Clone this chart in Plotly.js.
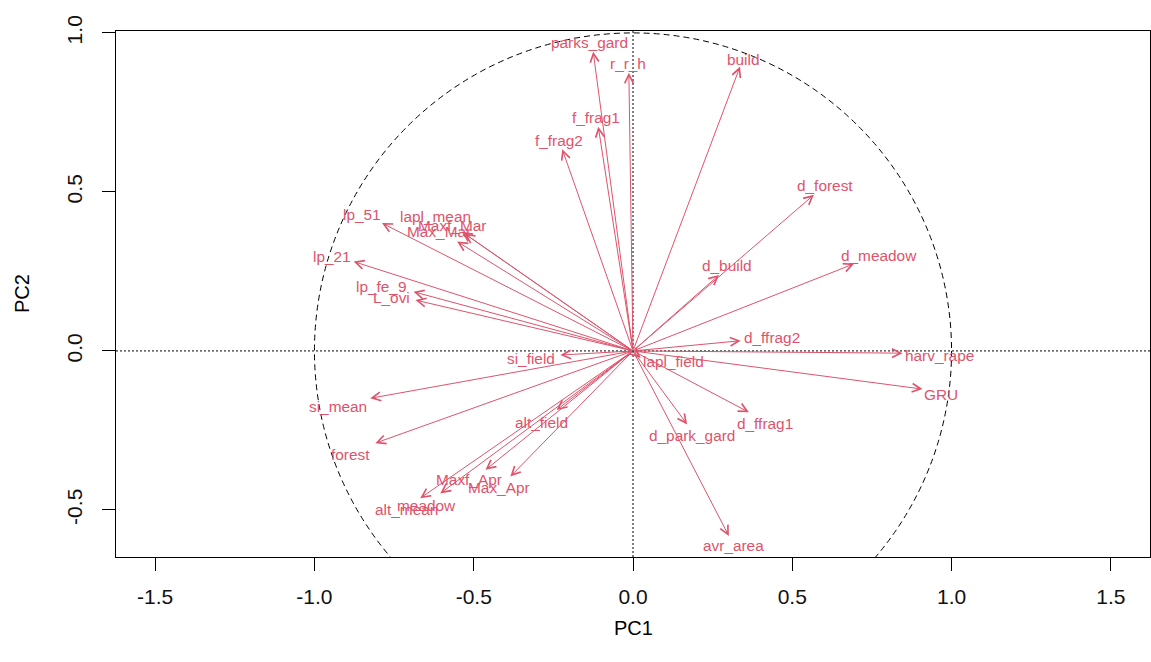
<!DOCTYPE html>
<html>
<head>
<meta charset="utf-8">
<script src="https://cdn.plot.ly/plotly-3.0.1.min.js"></script>
<style>html,body{margin:0;padding:0;background:#fff;}#chart{width:1151px;height:662px;}</style>
</head>
<body>
<div id="chart"></div>
<script>
// ---- data: variable loadings (PC1, PC2) ----
const varNames = ["parks_gard","r_r_h","build","f_frag1","f_frag2","d_forest","d_meadow","d_build",
  "d_ffrag2","harv_rape","GRU","lapl_field","d_ffrag1","d_park_gard","avr_area","lp_51","lapl_mean",
  "Maxf_Mar","Max_Mar","lp_21","lp_fe_9","L_ovi","si_field","si_mean","forest","alt_field",
  "Maxf_Apr","Max_Apr","meadow","alt_mean"];
const pc1 = [-0.125,-0.013,0.336,-0.109,-0.222,0.568,0.694,0.270,
  0.338,0.846,0.909,0.024,0.364,0.170,0.301,-0.788,-0.537,
  -0.529,-0.552,-0.877,-0.689,-0.683,-0.228,-0.825,-0.809,-0.240,
  -0.463,-0.385,-0.605,-0.668];
const pc2 = [0.941,0.875,0.894,0.705,0.634,0.491,0.274,0.239,
  0.032,-0.007,-0.120,-0.022,-0.193,-0.231,-0.582,0.402,0.375,
  0.369,0.344,0.281,0.186,0.160,-0.013,-0.149,-0.290,-0.186,
  -0.374,-0.395,-0.448,-0.463];
const xTickVals = [-1.5,-1.0,-0.5,0.0,0.5,1.0,1.5];
const xTickText = ["-1.5","-1.0","-0.5","0.0","0.5","1.0","1.5"];
const yTickVals = [-0.5,0.0,0.5,1.0];
const yTickText = ["-0.5","0.0","0.5","1.0"];
const xTitle = "PC1";
const yTitle = "PC2";

// ---- label placement (pixel offsets of label centre from arrow tip; styling only) ----
const labelDx = [-3.7,-0.6,3.4,-2.7,-3.4,10.7,24.7,8.4,
  31.7,37.5,18.8,33.3,16.2,5.3,4.7,-20,-26.7,
  -12,-18,-21.6,-31.6,-24,-29.3,-32.5,-24.7,-15,
  -17,-11,-14,-14];
const labelDy = [-9,-9.4,-7.4,-9.4,-9.3,-9,-8,-9,
  -3,2.7,5.7,3.7,10.7,10.7,9.7,-8.3,-15,
  -8.5,-10,-5,-5.7,-2.3,3.3,7.7,11.7,12.7,
  10,10.6,11.7,11.7];

const red = "#DF536B";
const fontFam = "'Liberation Sans', Arial, sans-serif";

const annotations = [];
for (let i = 0; i < varNames.length; i++) {
  annotations.push({
    x: pc1[i], y: pc2[i], xref: "x", yref: "y",
    ax: 0, ay: 0, axref: "x", ayref: "y",
    text: "", showarrow: true, arrowhead: 5, arrowsize: 1.7, arrowwidth: 1,
    arrowcolor: red, standoff: 0, startstandoff: 0
  });
}
for (let i = 0; i < varNames.length; i++) {
  annotations.push({
    x: pc1[i], y: pc2[i], xref: "x", yref: "y",
    text: varNames[i], showarrow: false,
    xanchor: "center", yanchor: "middle",
    xshift: labelDx[i], yshift: -labelDy[i],
    font: {family: fontFam, size: 15.4, color: red}
  });
}
annotations.push({
  xref: "paper", yref: "paper", x: 0.5, y: 0, yanchor: "middle",
  yshift: -71, text: xTitle, showarrow: false,
  font: {family: fontFam, size: 20, color: "#000"}
});
annotations.push({
  xref: "paper", yref: "paper", x: 0, y: 0.5, xanchor: "center",
  xshift: -94, text: yTitle, showarrow: false, textangle: -90,
  font: {family: fontFam, size: 20, color: "#000"}
});

const shapes = [
  {type: "circle", xref: "x", yref: "y", x0: -1, y0: -1, x1: 1, y1: 1,
   line: {color: "#000", width: 1, dash: "6px,4px"}},
  {type: "line", xref: "paper", yref: "y", x0: 0, x1: 1, y0: 0, y1: 0,
   line: {color: "#000", width: 1, dash: "2px,2px"}},
  {type: "line", xref: "x", yref: "paper", x0: 0, x1: 0, y0: 0, y1: 1,
   line: {color: "#000", width: 1, dash: "2px,2px"}}
];

const trace = {
  x: pc1, y: pc2, text: varNames, type: "scatter", mode: "markers",
  marker: {size: 4, opacity: 0}, hoverinfo: "text", showlegend: false
};

const axisCommon = {
  showgrid: false, zeroline: false, showline: true, mirror: true,
  linecolor: "#000", linewidth: 1, ticks: "outside", ticklen: 13,
  tickwidth: 1, tickcolor: "#000", tickmode: "array",
  tickfont: {family: fontFam, size: 21, color: "#111"}
};

const layout = {
  width: 1151, height: 662,
  margin: {l: 116, r: 1, t: 31, b: 105, pad: 0},
  paper_bgcolor: "#fff", plot_bgcolor: "#fff",
  showlegend: false,
  xaxis: Object.assign({}, axisCommon, {
    range: [-1.623, 1.623], tickvals: xTickVals, ticktext: xTickText,
    ticklabelstandoff: 8
  }),
  yaxis: Object.assign({}, axisCommon, {
    range: [-0.648, 1.006], tickvals: yTickVals, ticktext: yTickText,
    tickangle: -90, ticklabelstandoff: 12
  }),
  shapes: shapes,
  annotations: annotations
};

Plotly.newPlot("chart", [trace], layout, {displayModeBar: false, staticPlot: true});
</script>
</body>
</html>
